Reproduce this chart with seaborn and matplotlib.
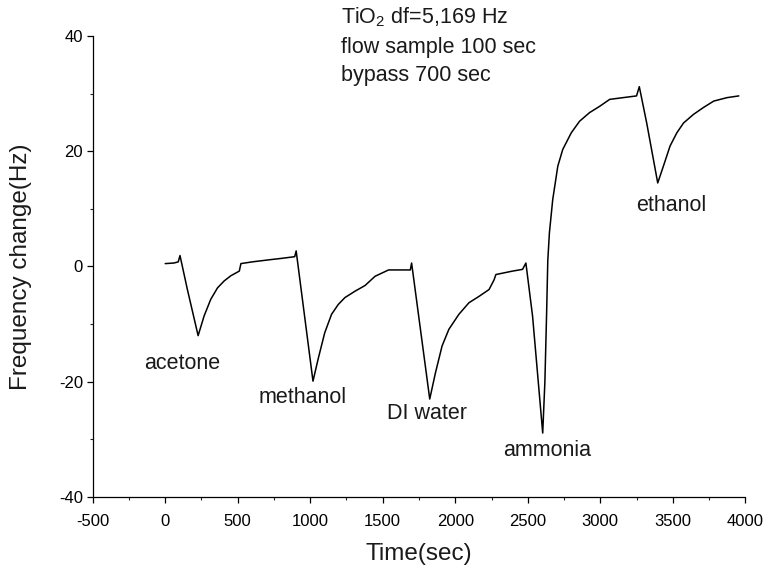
import matplotlib
matplotlib.use("Agg")
import matplotlib.pyplot as plt
from matplotlib.ticker import MultipleLocator
import seaborn as sns
import pandas as pd

# QCM response of the TiO2-coated sensor to a sequence of vapours
time_s = [0, 60, 90, 102, 153, 227, 268, 314, 361, 407, 453, 511, 522, 600,
          730, 800, 893, 903, 1019, 1054, 1100, 1147, 1193, 1239, 1308, 1378,
          1447, 1540, 1690, 1699, 1824, 1863, 1909, 1956, 2025, 2094, 2163,
          2233, 2268, 2280, 2395, 2464, 2487, 2533, 2603, 2618, 2630, 2638,
          2649, 2672, 2707, 2741, 2800, 2857, 2926, 2996, 3065, 3250, 3269,
          3320, 3396, 3435, 3481, 3528, 3574, 3643, 3712, 3782, 3874, 3955]
freq_hz = [0.5, 0.6, 0.8, 1.9, -4.0, -12.0, -8.6, -5.7, -3.7, -2.5, -1.6,
           -0.8, 0.5, 0.8, 1.2, 1.4, 1.7, 2.7, -19.9, -16.1, -11.5, -8.3,
           -6.6, -5.4, -4.3, -3.3, -1.7, -0.6, -0.6, 0.6, -23.0, -18.5,
           -13.8, -10.9, -8.3, -6.3, -5.2, -4.0, -2.3, -1.4, -0.8, -0.5, 0.6,
           -8.6, -28.9, -20.0, -8.0, 1.0, 5.8, 11.6, 17.4, 20.3, 23.2, 25.2,
           26.7, 27.8, 29.0, 29.6, 31.2, 24.9, 14.5, 17.4, 20.9, 23.2, 24.9,
           26.4, 27.6, 28.7, 29.3, 29.6]

gas_names = ["acetone", "methanol", "DI water", "ammonia", "ethanol"]
gas_label_t = [118, 950, 1803, 2635, 3488]
gas_label_f = [-16.8, -22.7, -25.5, -31.9, 10.6]

info_lines = ["TiO$_2$ df=5,169 Hz", "flow sample 100 sec", "bypass 700 sec"]
info_t = 1214
info_f = [43.2, 38.0, 33.1]

x_ticks = [-500, 0, 500, 1000, 1500, 2000, 2500, 3000, 3500, 4000]
y_ticks = [-40, -20, 0, 20, 40]

sns.set_theme(style="ticks")
plt.rcParams["font.family"] = ["Liberation Sans", "DejaVu Sans"]
plt.rcParams["mathtext.fontset"] = "custom"
plt.rcParams["mathtext.rm"] = "Liberation Sans"
plt.rcParams["axes.unicode_minus"] = False

fig = plt.figure(figsize=(7.66, 5.71), dpi=100)
ax = fig.add_axes([0.121, 0.1296, 0.852, 0.8074])

df = pd.DataFrame({"t": time_s, "f": freq_hz})
sns.lineplot(data=df, x="t", y="f", ax=ax, color="black", linewidth=1.1,
             sort=False, estimator=None)

ax.set_xlim(-500, 4000)
ax.set_ylim(-40, 40)
ax.set_xticks(x_ticks)
ax.set_yticks(y_ticks)
ax.xaxis.set_minor_locator(MultipleLocator(250))
ax.yaxis.set_minor_locator(MultipleLocator(10))
ax.tick_params(which="major", direction="out", length=4, width=0.9,
               labelsize=12, colors="black")
ax.tick_params(axis="x", which="major", pad=8)
ax.tick_params(axis="y", which="major", pad=3)
ax.tick_params(which="minor", direction="out", length=2, width=0.8)
for side in ("top", "right"):
    ax.spines[side].set_visible(False)
for side in ("left", "bottom"):
    ax.spines[side].set_linewidth(0.9)
    ax.spines[side].set_color("black")

ax.set_xlabel("Time(sec)", fontsize=17.5, labelpad=10, color="#1a1a1a")
ax.set_ylabel("Frequency change(Hz)", fontsize=17.5, labelpad=19,
              color="#1a1a1a")

for name, tx, fy in zip(gas_names, gas_label_t, gas_label_f):
    ax.text(tx, fy, name, ha="center", va="center", fontsize=15.5,
            color="#1a1a1a")

for line, fy in zip(info_lines, info_f):
    ax.text(info_t, fy, line, ha="left", va="center", fontsize=15.5,
            color="#1a1a1a", clip_on=False)

fig.savefig("out.png", dpi=100)
